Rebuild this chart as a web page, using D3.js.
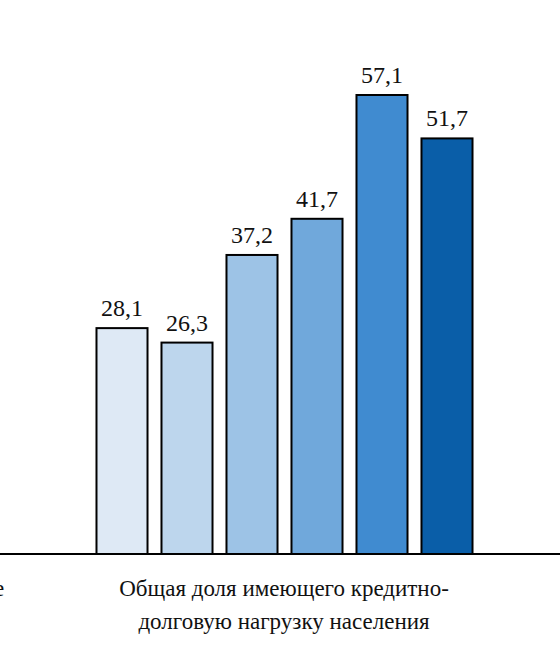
<!DOCTYPE html>
<html>
<head>
<meta charset="utf-8">
<style>
html, body { margin: 0; padding: 0; background: #fff; }
svg text { font-family: "Liberation Serif", "Times New Roman", "DejaVu Serif", serif; fill: #111; }
</style>
<script src="https://cdn.jsdelivr.net/npm/d3@7"></script>
</head>
<body>
<script>
var series = ["s1", "s2", "s3", "s4", "s5", "s6"];
var values = [28.1, 26.3, 37.2, 41.7, 57.1, 51.7];
var colors = ["#dee9f5", "#bdd6ed", "#9dc3e6", "#70a8db", "#408bd0", "#0a5ea8"];
var groupLabel = ["Общая доля имеющего кредитно-", "долговую нагрузку населения"];

var w = 560, h = 654, base = 554;

var svg = d3.select("body").append("svg")
  .attr("width", w).attr("height", h);

var x = d3.scaleBand().domain(series).range([84.4, 484.6]).paddingInner(0.215).paddingOuter(0.186);
var y = d3.scaleLinear().domain([0, 57.1]).range([base, 95]);

svg.selectAll("rect").data(values).enter().append("rect")
  .attr("x", function(d, i) { return x(series[i]); })
  .attr("y", function(d) { return y(d); })
  .attr("width", x.bandwidth())
  .attr("height", function(d) { return base - y(d); })
  .style("fill", function(d, i) { return colors[i]; })
  .style("stroke", "#000").style("stroke-width", 2);

svg.selectAll("text.val").data(values).enter().append("text")
  .attr("class", "val")
  .attr("x", function(d, i) { return x(series[i]) + x.bandwidth() / 2; })
  .attr("y", function(d) { return y(d) - 12; })
  .attr("text-anchor", "middle")
  .attr("font-family", "Liberation Serif, DejaVu Serif, serif")
  .style("font-size", "24px")
  .text(function(d) { return String(d).replace(".", ","); });

svg.append("line").attr("x1", 0).attr("x2", w).attr("y1", base).attr("y2", base)
  .style("stroke", "#000").style("stroke-width", 2);

svg.selectAll("text.lab").data(groupLabel).enter().append("text")
  .attr("class", "lab")
  .attr("x", 284).attr("y", function(d, i) { return 596 + i * 33; })
  .attr("text-anchor", "middle").style("font-size", "23px")
  .text(function(d) { return d; });

// partial label of the neighbouring group, clipped by the left edge in the original
svg.append("text").attr("x", -6).attr("y", 596).style("font-size", "23px").text("е");
</script>
</body>
</html>
